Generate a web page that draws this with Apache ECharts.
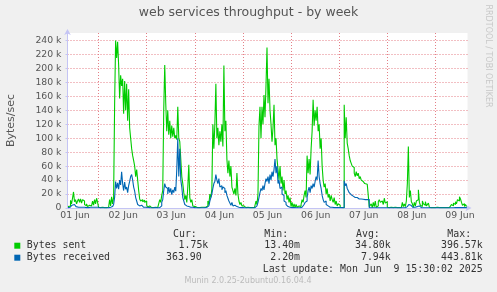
<!DOCTYPE html>
<html>
<head>
<meta charset="utf-8">
<script src="https://cdn.jsdelivr.net/npm/echarts@6/dist/echarts.min.js"></script>
<style>
    html, body { margin: 0; padding: 0; background: #f0f0f0; }
    #chart { width: 497px; height: 292px; }
</style>
</head>
<body>
<div id="chart"></div>
<script>
// kB/s, one value per 30 min (munin weekly resolution). Jun 01 starts at 08:30, Jun 09 ends at 15:30
const dayLabels = ['01 Jun', '02 Jun', '03 Jun', '04 Jun', '05 Jun', '06 Jun', '07 Jun', '08 Jun', '09 Jun'];

const sentJun01 = [2, 2, 3, 11, 6, 14, 23, 9, 12, 6, 10, 13, 8, 13, 7, 12, 10, 5, 3, 6, 2, 4, 6, 3, 5, 10, 4, 12, 6, 14, 8];
const sentJun02 = [1, 0.5, 0.5, 1, 0.5, 0.5, 1, 0.5, 0.5, 1, 0.5, 12, 3, 16, 6, 15,
    148, 240, 215, 238, 205, 157, 190, 175, 185, 135, 182, 140, 178, 125, 170, 115,
    100, 85, 75, 68, 60, 45, 55, 40, 25, 13, 10, 12, 9, 11, 8, 10];
const sentJun03 = [4, 1, 3, 1, 0.5, 2, 0.5, 0.5, 1, 0.5, 0.5, 1, 2, 12, 8, 18, 25,
    140, 205, 150, 110, 140, 105, 125, 100, 118, 102, 115, 100, 104, 98, 145, 100,
    95, 70, 45, 35, 22, 12, 18, 8, 30, 62, 15, 8, 12, 3, 2];
const sentJun04 = [2, 1, 0.5, 1, 0.5, 0.5, 1, 0.5, 1, 0.5, 1, 2, 3, 10, 5, 20, 15, 27,
    120, 85, 120, 178, 100, 115, 90, 110, 95, 120, 88, 204, 110, 125,
    70, 50, 68, 45, 60, 30, 25, 20, 28, 18, 50, 20, 10, 5, 8, 3];
const sentJun05 = [3, 1, 2, 0.5, 1, 0.5, 0.5, 1, 0.5, 2, 1, 0.5, 3, 10, 5, 20,
    117, 145, 100, 145, 120, 162, 130, 175, 230, 150, 185, 140, 120, 95, 115, 148, 90, 100,
    70, 55, 40, 60, 35, 45, 25, 40, 20, 25, 12, 18, 8, 15];
const sentJun06 = [2, 8, 1, 6, 0.5, 5, 1, 3, 0.5, 2, 5, 12, 8, 18, 25, 15,
    75, 50, 70, 48, 85, 110, 155, 118, 140, 125, 145, 110, 120, 85, 100, 60,
    40, 30, 35, 20, 28, 15, 20, 10, 18, 12, 8, 15, 5, 10, 3, 6];
const sentJun07 = [4, 1, 2, 0.5, 0.5,
    148, 100, 130, 93, 85, 75, 68, 64, 60, 58, 50, 45, 52, 46, 50, 42, 45, 40, 38, 36, 35, 35, 34, 34, 33,
    2, 1, 6, 0.5, 8, 2, 10, 1, 3, 9, 12, 8, 10, 11, 5, 14, 7, 9];
const sentJun08 = [1, 0.5, 0.5, 1, 0.5, 0.5, 0.5, 1, 0.5, 0.5, 0.5, 0.5, 1, 0.5,
    3, 8, 2, 6, 2, 10, 35, 88, 15, 25, 9, 6,
    1, 8, 3, 10, 12, 26, 8, 4, 2, 10, 6, 4, 9, 3, 2, 7, 1, 0.5, 0.5, 0.5, 1, 0.5];
const sentJun09 = [0.5, 1, 3, 2, 0.5, 0.5, 0.5, 0.5, 0.5, 0.5, 0.5, 0.5, 0.5, 0.5, 1, 2,
    5, 3, 7, 5, 9, 6, 12, 10, 16, 13, 8, 4, 6, 2, 5, 2];

const receivedJun01 = [0.5, 1, 1, 3, 4, 2, 5, 3, 2, 4, 1, 2, 1, 3, 1, 2, 1, 1, 0.5, 1, 0.5, 1, 2, 1, 1, 2, 1, 3, 1, 2, 1];
const receivedJun02 = [0.3, 0.3, 0.3, 0.3, 0.3, 0.3, 0.3, 0.3, 0.3, 0.3, 0.3, 1, 0.5, 2, 1, 5,
    15, 38, 28, 36, 27, 40, 33, 52, 35, 25, 37, 27, 30, 22, 32, 38,
    45, 48, 40, 30, 24, 15, 10, 5, 3, 2, 4, 2, 3, 1, 2, 1];
const receivedJun03 = [2, 1, 0.5, 0.5, 0.3, 0.5, 0.3, 0.3, 0.5, 0.3, 0.3, 0.5, 0.5, 1, 3, 8, 12,
    25, 35, 30, 28, 20, 30, 22, 28, 19, 26, 22, 30, 24, 55, 100, 45,
    85, 40, 30, 15, 10, 5, 3, 4, 2, 3, 1, 2, 1, 0.5, 0.5];
const receivedJun04 = [0.3, 0.3, 0.3, 0.3, 0.3, 0.3, 0.3, 0.3, 0.3, 0.5, 0.5, 1, 1, 3, 5, 10, 15, 20,
    28, 35, 38, 48, 40, 35, 42, 30, 32, 26, 30, 28, 22, 25,
    18, 14, 10, 7, 4, 8, 3, 2, 4, 2, 3, 1, 1, 0.5, 1, 0.5];
const receivedJun05 = [0.3, 0.3, 0.3, 0.3, 0.3, 0.3, 0.3, 0.3, 0.3, 0.3, 0.3, 0.5, 1, 3, 5, 8,
    15, 22, 28, 25, 32, 26, 35, 42, 38, 45, 35, 48, 40, 52, 45, 55, 70, 50,
    60, 35, 40, 28, 30, 20, 18, 10, 8, 5, 4, 2, 3, 1];
const receivedJun06 = [0.5, 1, 0.5, 0.5, 0.3, 0.5, 0.3, 0.5, 0.3, 0.5, 1, 3, 2, 5, 8, 10,
    15, 25, 30, 22, 32, 28, 35, 30, 38, 45, 40, 68, 45, 35, 28, 18,
    12, 8, 10, 5, 4, 3, 2, 1, 2, 1, 0.5, 1, 0.5, 0.5, 0.5, 0.5];
const receivedJun07 = [0.5, 0.3, 0.5, 0.3, 0.3,
    39, 32, 35, 28, 25, 22, 21, 19, 18, 17, 16, 15, 15, 14, 14, 13, 13, 13, 12.5, 12.5, 12, 12, 12, 12, 12,
    0.3, 0.3, 0.3, 0.3, 0.3, 0.3, 0.3, 0.3, 0.3, 0.3, 0.3, 0.3, 0.3, 0.3, 0.3, 0.3, 0.3, 0.3];
const receivedJun08 = [0.3, 0.3, 0.3, 0.3, 0.3, 0.3, 0.3, 0.3, 0.3, 0.3, 0.3, 0.3, 0.3, 0.3, 0.3, 0.3, 0.3, 0.3, 0.3,
    2, 4, 5, 3, 4, 2, 1, 0.3, 1, 0.5, 2, 1, 3, 1, 0.5,
    0.3, 0.3, 0.3, 0.3, 0.3, 0.3, 0.3, 0.3, 0.3, 0.3, 0.3, 0.3, 0.3, 0.3];
const receivedJun09 = [0.3, 0.3, 0.3, 0.3, 0.3, 0.3, 0.3, 0.3, 0.3, 0.3, 0.3, 0.3, 0.3, 0.3, 0.3, 0.3,
    0.5, 0.3, 1, 0.5, 1, 0.5, 1, 0.5, 2, 1, 0.5, 0.3, 0.5, 0.3, 0.5, 0.4];

const statsHeader = ['Cur:', 'Min:', 'Avg:', 'Max:'];
const statsSent = ['1.75k', '13.40m', '34.80k', '396.57k'];
const statsReceived = ['363.90', '2.20m', '7.94k', '443.81k'];
const lastUpdate = 'Last update: Mon Jun  9 15:30:02 2025';

const sentDays = [sentJun01, sentJun02, sentJun03, sentJun04, sentJun05, sentJun06, sentJun07, sentJun08, sentJun09];
const receivedDays = [receivedJun01, receivedJun02, receivedJun03, receivedJun04, receivedJun05, receivedJun06, receivedJun07, receivedJun08, receivedJun09];

// category per 30 min slot: "01 Jun 08:30"
let categories = [];
sentDays.forEach(function (day, d) {
    let offset = d === 0 ? 48 - day.length : 0;
    for (let i = 0; i < day.length; i++) {
        let slot = offset + i;
        let hh = String(Math.floor(slot / 2)).padStart(2, '0');
        categories.push(dayLabels[d] + ' ' + hh + (slot % 2 ? ':30' : ':00'));
    }
});
const sent = [].concat.apply([], sentDays);
const received = [].concat.apply([], receivedDays);

const gridColor = '#e47f86';
const axisColor = '#c4c4f4';
const isMidnight = function (i, v) { return v.slice(-5) === '00:00'; };
const isNoon = function (i, v) { return v.slice(-5) === '12:00'; };
const mono = '9.9px "DejaVu Sans Mono"';

let graphics = [{
    type: 'text', x: 488, y: 56, rotation: -Math.PI / 2,
    style: { text: 'RRDTOOL / TOBI OETIKER', font: '8px "DejaVu Sans"', fill: '#c8c8c8', align: 'center', verticalAlign: 'middle' }
}];
const headerX = [173, 264.3, 356, 447.3];
const valueRight = [[208.3, 300, 390.7, 482.7], [201.7, 300, 390.7, 482.7]];
statsHeader.forEach(function (t, i) {
    graphics.push({ type: 'text', x: headerX[i], y: 234, style: { text: t, font: mono, fill: '#333', align: 'left', verticalAlign: 'middle' } });
});
[statsSent, statsReceived].forEach(function (row, r) {
    row.forEach(function (t, i) {
        graphics.push({ type: 'text', x: valueRight[r][i], y: 245.7 + r * 12, style: { text: t, font: mono, fill: '#333', align: 'right', verticalAlign: 'middle' } });
    });
});
graphics.push({ type: 'text', x: 482.7, y: 269.5, style: { text: lastUpdate, font: mono, fill: '#333', align: 'right', verticalAlign: 'middle' } });
graphics.push({ type: 'text', x: 248, y: 281, style: { text: 'Munin 2.0.25-2ubuntu0.16.04.4', font: '8px "DejaVu Sans"', fill: '#bbbbbb', align: 'center', verticalAlign: 'middle' } });

const option = {
    animation: false,
    backgroundColor: '#f0f0f0',
    title: {
        text: 'web services throughput - by week',
        left: 'center', top: 6.5, padding: 0,
        textStyle: { fontFamily: 'DejaVu Sans', fontSize: 12.5, fontWeight: 'normal', color: '#555' }
    },
    legend: {
        orient: 'vertical', left: 14.3, top: 239.7, padding: 0,
        itemWidth: 6, itemHeight: 6, itemGap: 0, icon: 'rect', selectedMode: false,
        itemStyle: { borderWidth: 0 },
        textStyle: { fontFamily: 'DejaVu Sans Mono', fontSize: 9.9, color: '#333', lineHeight: 12, padding: [0, 0, 0, 1.5] },
        data: ['Bytes sent', 'Bytes received']
    },
    grid: { left: 67.5, top: 33, width: 400, height: 175, show: true, backgroundColor: '#ffffff', borderWidth: 0, outerBoundsMode: 'none', containLabel: false },
    xAxis: {
        type: 'category', data: categories, boundaryGap: true,
        axisLine: { lineStyle: { color: axisColor }, symbol: ['none', 'arrow'], symbolSize: [5, 6], symbolOffset: [0, 4] },
        axisTick: { interval: isMidnight, length: 2, lineStyle: { color: gridColor } },
        axisLabel: { interval: isNoon, formatter: function (v) { return v.slice(0, 6); }, margin: 3, fontFamily: 'DejaVu Sans', fontSize: 9.3, color: '#555' },
        splitLine: { show: true, interval: isMidnight, showMaxLine: false, lineStyle: { color: gridColor, type: [1, 2] } }
    },
    yAxis: {
        type: 'value', min: 0, max: 250.7, interval: 20,
        name: 'Bytes/sec', nameLocation: 'middle', nameGap: 50.5,
        nameTextStyle: { fontFamily: 'DejaVu Sans', fontSize: 11, color: '#555' },
        axisLine: { show: true, lineStyle: { color: axisColor }, symbol: ['none', 'arrow'], symbolSize: [5, 6], symbolOffset: [0, 4] },
        axisTick: { show: true, length: 2, lineStyle: { color: axisColor } },
        axisLabel: {
            margin: 6, fontFamily: 'DejaVu Sans', fontSize: 9.3, color: '#555', showMaxLabel: false,
            formatter: function (v) { return v % 20 ? '' : (v === 0 ? '0' : v + ' k'); }
        },
        splitLine: { showMaxLine: false, lineStyle: { color: gridColor, type: [1, 2] } }
    },
    series: [
        { name: 'Bytes sent', type: 'line', data: sent, step: 'middle', showSymbol: false, color: '#00cc00', lineStyle: { width: 1.1 } },
        { name: 'Bytes received', type: 'line', data: received, step: 'middle', showSymbol: false, color: '#0066b3', lineStyle: { width: 1.1 } }
    ],
    graphic: graphics
};

echarts.init(document.getElementById('chart')).setOption(option);
</script>
</body>
</html>
